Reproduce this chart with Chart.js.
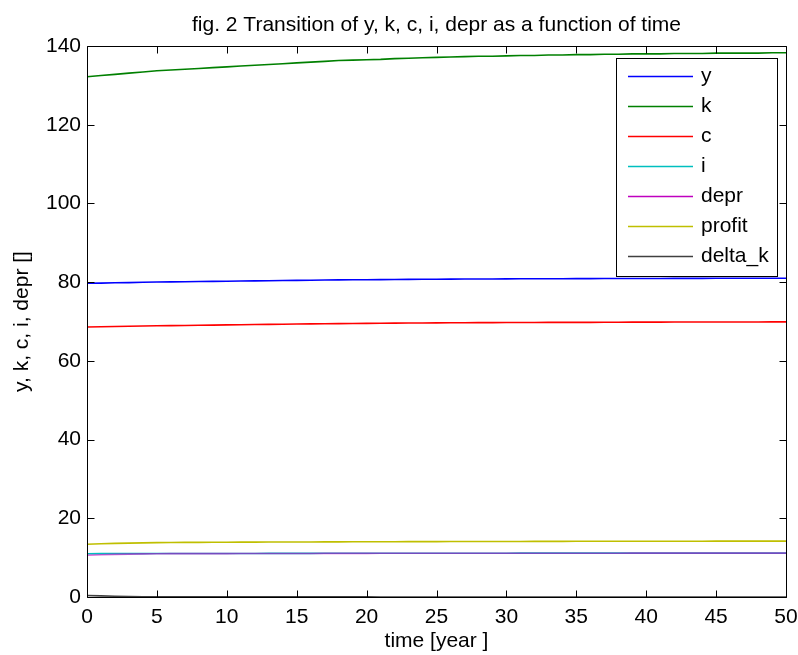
<!DOCTYPE html>
<html>
<head>
<meta charset="utf-8">
<title>fig. 2</title>
<script src="https://cdn.jsdelivr.net/npm/chart.js@4.4.1/dist/chart.umd.min.js"></script>
<style>
  html, body { margin: 0; padding: 0; background: #fff; overflow: hidden; }
  #fig { display: block; }
</style>
</head>
<body>
<canvas id="fig" width="798" height="655"></canvas>
<script>
const FONT = '"Liberation Sans", Arial, Helvetica, sans-serif';

const titleText = "fig. 2 Transition of y, k, c, i, depr as a function of time";
const xTitle = "time [year ]";
const yTitle = "y, k, c, i, depr []";

const years = [0, 1, 2, 3, 4, 5, 6, 7, 8, 9, 10, 11, 12, 13, 14, 15, 16, 17, 18, 19, 20,
  21, 22, 23, 24, 25, 26, 27, 28, 29, 30, 31, 32, 33, 34, 35, 36, 37, 38, 39, 40,
  41, 42, 43, 44, 45, 46, 47, 48, 49, 50];

const yVals = [79.70, 79.76, 79.83, 79.89, 79.96, 80.02, 80.06, 80.10, 80.15, 80.19, 80.23,
  80.28, 80.32, 80.36, 80.40, 80.45, 80.49, 80.53, 80.57, 80.59, 80.62,
  80.64, 80.68, 80.70, 80.72, 80.74, 80.77, 80.79, 80.81, 80.81, 80.83,
  80.85, 80.85, 80.87, 80.87, 80.89, 80.89, 80.91, 80.91, 80.94, 80.94,
  80.94, 80.96, 80.96, 80.96, 80.98, 80.98, 80.98, 80.98, 81.00, 81.00];

const kVals = [132.2, 132.5, 132.8, 133.1, 133.4, 133.7, 133.9, 134.1, 134.3, 134.5, 134.7,
  134.9, 135.1, 135.3, 135.5, 135.7, 135.9, 136.1, 136.3, 136.4, 136.5,
  136.6, 136.8, 136.9, 137.0, 137.1, 137.2, 137.3, 137.4, 137.4, 137.5,
  137.6, 137.6, 137.7, 137.7, 137.8, 137.8, 137.9, 137.9, 138.0, 138.0,
  138.0, 138.1, 138.1, 138.1, 138.2, 138.2, 138.2, 138.2, 138.3, 138.3];

const cVals = [68.60, 68.66, 68.73, 68.79, 68.86, 68.92, 68.96, 69.00, 69.05, 69.09, 69.13,
  69.18, 69.22, 69.26, 69.30, 69.35, 69.39, 69.43, 69.47, 69.49, 69.52,
  69.54, 69.58, 69.60, 69.62, 69.64, 69.67, 69.69, 69.71, 69.71, 69.73,
  69.75, 69.75, 69.77, 69.77, 69.79, 69.79, 69.81, 69.81, 69.84, 69.84,
  69.84, 69.86, 69.86, 69.86, 69.88, 69.88, 69.88, 69.88, 69.90, 69.90];

const iVals = [11.00, 11.01, 11.02, 11.02, 11.03, 11.04, 11.04, 11.05, 11.05, 11.06, 11.06,
  11.07, 11.07, 11.08, 11.08, 11.09, 11.09, 11.10, 11.10, 11.11, 11.11,
  11.11, 11.12, 11.12, 11.12, 11.12, 11.13, 11.13, 11.13, 11.13, 11.13,
  11.14, 11.14, 11.14, 11.14, 11.14, 11.14, 11.14, 11.14, 11.15, 11.15,
  11.15, 11.15, 11.15, 11.15, 11.15, 11.15, 11.15, 11.15, 11.15, 11.15];

const deprVals = [10.60, 10.72, 10.82, 10.90, 10.96, 11.00, 11.01, 11.02, 11.02, 11.03, 11.03,
  11.05, 11.05, 11.06, 11.06, 11.07, 11.07, 11.08, 11.08, 11.09, 11.09,
  11.10, 11.11, 11.11, 11.11, 11.11, 11.12, 11.12, 11.12, 11.12, 11.12,
  11.13, 11.13, 11.13, 11.13, 11.13, 11.13, 11.13, 11.13, 11.14, 11.14,
  11.14, 11.14, 11.14, 11.14, 11.14, 11.14, 11.14, 11.14, 11.14, 11.14];

const profitVals = [13.40, 13.52, 13.62, 13.70, 13.76, 13.82, 13.85, 13.87, 13.89, 13.91, 13.92,
  13.94, 13.95, 13.96, 13.97, 13.98, 13.99, 14.00, 14.01, 14.02, 14.03,
  14.04, 14.05, 14.06, 14.07, 14.08, 14.09, 14.10, 14.10, 14.11, 14.12,
  14.12, 14.13, 14.14, 14.14, 14.15, 14.15, 14.16, 14.16, 14.17, 14.17,
  14.17, 14.18, 14.18, 14.18, 14.19, 14.19, 14.19, 14.19, 14.20, 14.20];

const deltaKVals = [0.40, 0.29, 0.20, 0.12, 0.07, 0.04, 0.03, 0.03, 0.03, 0.03, 0.03,
  0.02, 0.02, 0.02, 0.02, 0.02, 0.02, 0.02, 0.02, 0.02, 0.02,
  0.01, 0.01, 0.01, 0.01, 0.01, 0.01, 0.01, 0.01, 0.01, 0.01,
  0.01, 0.01, 0.01, 0.01, 0.01, 0.01, 0.01, 0.01, 0.01, 0.01,
  0.01, 0.01, 0.01, 0.01, 0.01, 0.01, 0.01, 0.01, 0.01, 0.01];

const xTicks = [0, 5, 10, 15, 20, 25, 30, 35, 40, 45, 50];
const yTicks = [0, 20, 40, 60, 80, 100, 120, 140];

function series(label, vals, color, legendColor, extra) {
  return Object.assign({
    label,
    data: vals.map((v, i) => ({ x: years[i], y: v })),
    borderColor: color,
    legendColor: legendColor || color,
    borderWidth: 1.6,
    pointRadius: 0,
    tension: 0,
    fill: false,
  }, extra || {});
}

// box around the plot with tick marks pointing inward on all four sides
const boxAxesPlugin = {
  id: "boxAxes",
  afterDatasetsDraw(chart) {
    const { ctx, chartArea: a, scales } = chart;
    const L = Math.round(a.left) + 0.5, R = Math.round(a.right) + 0.5;
    const T = Math.round(a.top) + 0.5, B = Math.round(a.bottom) + 0.5;
    const len = 7;
    ctx.save();
    ctx.strokeStyle = "#000";
    ctx.lineWidth = 1;
    ctx.beginPath();
    ctx.rect(L, T, R - L, B - T);
    xTicks.forEach(v => {
      const x = Math.round(scales.x.getPixelForValue(v)) + 0.5;
      ctx.moveTo(x, B); ctx.lineTo(x, B - len);
      ctx.moveTo(x, T); ctx.lineTo(x, T + len);
    });
    yTicks.forEach(v => {
      const y = Math.round(scales.y.getPixelForValue(v)) + 0.5;
      ctx.moveTo(L, y); ctx.lineTo(L + len, y);
      ctx.moveTo(R, y); ctx.lineTo(R - len, y);
    });
    ctx.stroke();
    ctx.restore();
  }
};

// title above the axes
const topTitlePlugin = {
  id: "topTitle",
  afterDraw(chart) {
    const { ctx, chartArea: a } = chart;
    ctx.save();
    ctx.fillStyle = "#000";
    ctx.font = `21px ${FONT}`;
    ctx.textAlign = "center";
    ctx.textBaseline = "middle";
    ctx.fillText(titleText, (a.left + a.right) / 2, 25);
    ctx.restore();
  }
};

// boxed legend in the upper right corner of the axes
const boxLegendPlugin = {
  id: "boxLegend",
  afterDraw(chart) {
    const { ctx, chartArea: a } = chart;
    const sets = chart.data.datasets;
    const right = a.right - 9, top = a.top + 12;
    const width = 161, rowH = 30;
    const height = sets.length * rowH + 8;
    const left = right - width;
    ctx.save();
    ctx.fillStyle = "#fff";
    ctx.fillRect(left, top, width, height);
    ctx.strokeStyle = "#000";
    ctx.lineWidth = 1;
    ctx.strokeRect(Math.round(left) + 0.5, Math.round(top) + 0.5, width, height);
    ctx.font = `21px ${FONT}`;
    ctx.textBaseline = "middle";
    sets.forEach((ds, i) => {
      const y = Math.round(top + 18 + i * rowH) + 0.5;
      ctx.strokeStyle = ds.legendColor;
      ctx.lineWidth = 1.6;
      ctx.beginPath();
      ctx.moveTo(left + 12, y);
      ctx.lineTo(left + 77, y);
      ctx.stroke();
      ctx.fillStyle = "#000";
      ctx.fillText(ds.label, left + 85, y);
    });
    ctx.restore();
  }
};

const chart = new Chart(document.getElementById("fig"), {
  type: "line",
  data: {
    datasets: [
      series("y", yVals, "#0000ff"),
      series("k", kVals, "#008000"),
      series("c", cVals, "#ff0000"),
      series("i", iVals, "#00bfbf"),
      series("depr", deprVals, "rgba(191,0,191,0.6)", "#bf00bf", { order: -1 }),
      series("profit", profitVals, "#bfbf00"),
      series("delta_k", deltaKVals, "#404040"),
    ],
  },
  options: {
    responsive: false,
    animation: false,
    devicePixelRatio: 1,
    layout: { padding: { top: 46, right: 12, left: 0, bottom: 0 } },
    plugins: {
      legend: { display: false },
      title: { display: false },
      tooltip: { enabled: false },
    },
    scales: {
      x: {
        type: "linear",
        min: 0,
        max: 50,
        afterBuildTicks: (s) => { s.ticks = xTicks.map(v => ({ value: v })); },
        afterFit: (s) => { s.height = 58; s.paddingLeft = 0; s.paddingRight = 0; },
        grid: { display: false, drawTicks: false },
        border: { display: false },
        ticks: { color: "#000", font: { family: FONT, size: 21 }, padding: 8, maxRotation: 0 },
        title: { display: true, text: xTitle, color: "#000", font: { family: FONT, size: 21 }, padding: { top: 0, bottom: 1 } },
      },
      y: {
        type: "linear",
        min: 0,
        max: 140,
        afterBuildTicks: (s) => { s.ticks = yTicks.map(v => ({ value: v })); },
        afterFit: (s) => { s.width = 87; s.paddingTop = 0; s.paddingBottom = 0; },
        grid: { display: false, drawTicks: false },
        border: { display: false },
        ticks: { color: "#000", font: { family: FONT, size: 21 }, padding: 6 },
        title: { display: true, text: yTitle, color: "#000", font: { family: FONT, size: 21 }, padding: { top: 10, bottom: 0 } },
      },
    },
  },
  plugins: [boxAxesPlugin, topTitlePlugin, boxLegendPlugin],
});
</script>
</body>
</html>
